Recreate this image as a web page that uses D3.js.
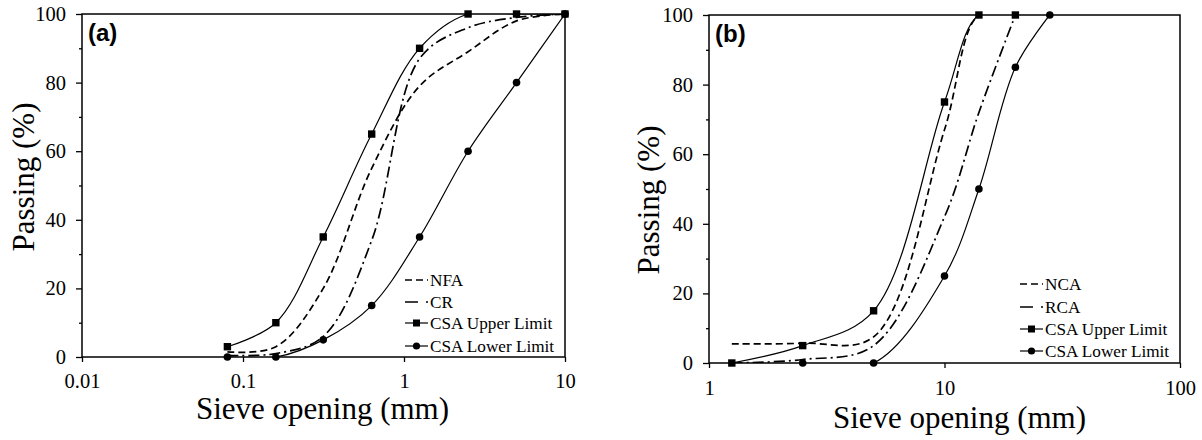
<!DOCTYPE html>
<html>
<head>
<meta charset="utf-8">
<script src="https://cdn.jsdelivr.net/npm/d3@7"></script>
<style>
  body { margin: 0; background: #fff; }
  svg { display: block; }
</style>
</head>
<body>
<div id="chart"></div>
<script>
// panel (a) - fine aggregate
var sievesA = [0.08, 0.16, 0.315, 0.63, 1.25, 2.5, 5, 10];
var nfa     = [1.5, 3, 20, 55, 79, 89, 98, 100];
var cr      = [0.5, 1, 6, 34, 87, 96, 99, 100];
var upperA  = [3, 10, 35, 65, 90, 100, 100, 100];
var lowerA  = [0, 0, 5, 15, 35, 60, 80, 100];
var xTicksA = [0.01, 0.1, 1, 10];
var xLabelsA = ["0.01", "0.1", "1", "10"];
var legendA = ["NFA", "CR", "CSA Upper Limit", "CSA Lower Limit"];

// panel (b) - coarse aggregate
var sievesB = [1.25, 2.5, 5, 10, 14, 20, 28];
var nca     = [5.5, 5.7, 7.5, 67, 100, 100, null];
var rca     = [0, 1, 5, 42, 72, 100, null];
var upperB  = [0, 5, 15, 75, 100, 100, null];
var lowerB  = [null, 0, 0, 25, 50, 85, 100];
var xTicksB = [1, 10, 100];
var xLabelsB = ["1", "10", "100"];
var legendB = ["NCA", "RCA", "CSA Upper Limit", "CSA Lower Limit"];

var yTicks = [0, 20, 40, 60, 80, 100];
var yMinor = [10, 30, 50, 70, 90];

var svg = d3.select("#chart").append("svg")
    .attr("width", 1202)
    .attr("height", 440);

var serif = "'Liberation Serif', 'Times New Roman', serif";
var sans = "'Liberation Sans', Arial, sans-serif";

function drawPanel(p) {
  var x = d3.scaleLog().domain(p.xDomain).range([p.left, p.right]);
  var y = d3.scaleLinear().domain([0, 100]).range([p.bottom, p.top]);
  var g = svg.append("g");

  g.append("clipPath").attr("id", p.id + "-clip")
    .append("rect")
    .attr("x", p.left).attr("y", p.top)
    .attr("width", p.right - p.left).attr("height", p.bottom - p.top);

  // axes
  var xa = g.append("g")
    .attr("transform", "translate(0," + p.bottom + ")")
    .call(d3.axisBottom(x).tickValues(p.xTicks).tickSize(5)
      .tickFormat(function(d, i) { return p.xLabels[i]; }));
  xa.select(".domain").remove();
  xa.selectAll("line").attr("stroke", "#000").attr("stroke-width", 1.3);
  xa.selectAll("text").attr("y", p.xLabelY).attr("dy", 0)
    .style("font-family", serif).style("font-size", "20.5px").attr("fill", "#000");

  var ya = g.append("g")
    .attr("transform", "translate(" + p.left + ",0)")
    .call(d3.axisLeft(y).tickValues(yTicks).tickSize(6).tickPadding(10));
  ya.select(".domain").remove();
  ya.selectAll("line").attr("stroke", "#000").attr("stroke-width", 1.3);
  ya.selectAll("text").style("font-family", serif).style("font-size", "20.5px").attr("fill", "#000");

  var ym = g.append("g")
    .attr("transform", "translate(" + p.left + ",0)")
    .call(d3.axisLeft(y).tickValues(yMinor).tickSize(3).tickFormat(""));
  ym.select(".domain").remove();
  ym.selectAll("line").attr("stroke", "#000").attr("stroke-width", 1.3);

  g.append("rect")
    .attr("x", p.left).attr("y", p.top)
    .attr("width", p.right - p.left).attr("height", p.bottom - p.top)
    .attr("fill", "none").attr("stroke", "#000").attr("stroke-width", 1.5);

  // curves
  var line = d3.line()
    .defined(function(d) { return d[1] != null; })
    .x(function(d) { return x(d[0]); })
    .y(function(d) { return y(d[1]); })
    .curve(d3.curveCatmullRom.alpha(0.5));

  var curves = g.append("g").attr("clip-path", "url(#" + p.id + "-clip)");
  p.series.forEach(function(s) {
    var pts = p.sieves.map(function(v, i) { return [v, s.values[i]]; })
      .filter(function(d) { return d[1] != null; });
    curves.append("path")
      .datum(pts)
      .attr("d", line)
      .attr("fill", "none")
      .attr("stroke", "#000")
      .attr("stroke-width", s.width)
      .attr("stroke-dasharray", s.dash);
  });

  p.series.forEach(function(s) {
    if (!s.marker) return;
    var pts = p.sieves.map(function(v, i) { return [v, s.values[i]]; })
      .filter(function(d) { return d[1] != null; });
    if (s.marker == "square") {
      g.selectAll(null).data(pts).enter().append("rect")
        .attr("x", function(d) { return x(d[0]) - 3.7; })
        .attr("y", function(d) { return y(d[1]) - 3.7; })
        .attr("width", 7.4).attr("height", 7.4)
        .attr("fill", "#000");
    } else {
      g.selectAll(null).data(pts).enter().append("circle")
        .attr("cx", function(d) { return x(d[0]); })
        .attr("cy", function(d) { return y(d[1]); })
        .attr("r", 3.8)
        .attr("fill", "#000");
    }
  });

  // legend
  var legend = g.selectAll(".legend-" + p.id)
    .data(p.series).enter()
    .append("g")
    .attr("transform", function(d, i) {
      return "translate(" + p.legX + "," + p.legY[i] + ")";
    });
  legend.append("line")
    .attr("x1", 0).attr("x2", 23)
    .attr("stroke", "#000")
    .attr("stroke-width", function(d) { return d.width; })
    .attr("stroke-dasharray", function(d) { return d.legDash; });
  legend.filter(function(d) { return d.marker == "square"; })
    .append("rect").attr("x", 8).attr("y", -3.5).attr("width", 7).attr("height", 7).attr("fill", "#000");
  legend.filter(function(d) { return d.marker == "circle"; })
    .append("circle").attr("cx", 11.5).attr("r", 3.6).attr("fill", "#000");
  legend.append("text")
    .attr("x", 25).attr("y", 6)
    .style("font-family", serif).style("font-size", "17.2px")
    .text(function(d, i) { return p.legend[i]; });

  // titles
  g.append("text")
    .attr("x", (p.left + p.right) / 2 + p.xTitleShift)
    .attr("y", p.xTitleY)
    .attr("text-anchor", "middle")
    .style("font-family", serif).style("font-size", "31px")
    .text("Sieve opening (mm)");
  g.append("text")
    .attr("transform", "translate(" + p.yTitleX + "," + p.yTitleY + ") rotate(-90)")
    .attr("text-anchor", "middle")
    .style("font-family", serif).style("font-size", "31px")
    .text("Passing (%)");
  g.append("text")
    .attr("x", p.left + 6).attr("y", p.top + 27)
    .style("font-family", sans).style("font-size", "24px").style("font-weight", "bold")
    .text(p.tag);
}

drawPanel({
  id: "a", tag: "(a)",
  left: 82, right: 565, top: 14, bottom: 357,
  xDomain: [0.01, 10], xTicks: xTicksA, xLabels: xLabelsA, xLabelY: 31,
  sieves: sievesA,
  series: [
    { values: nfa, width: 1.7, dash: "7,4", legDash: "7,4" },
    { values: cr, width: 1.7, dash: "11,4,2,4", legDash: "13,8,2,4" },
    { values: upperA, width: 1.2, dash: null, legDash: null, marker: "square" },
    { values: lowerA, width: 1.2, dash: null, legDash: null, marker: "circle" }
  ],
  legend: legendA, legX: 405, legY: [280, 302, 323, 346],
  xTitleShift: -1, xTitleY: 419, yTitleX: 34, yTitleY: 177
});

drawPanel({
  id: "b", tag: "(b)",
  left: 709, right: 1180, top: 15, bottom: 363,
  xDomain: [1, 100], xTicks: xTicksB, xLabels: xLabelsB, xLabelY: 32,
  sieves: sievesB,
  series: [
    { values: nca, width: 1.7, dash: "7,4", legDash: "7,4" },
    { values: rca, width: 1.7, dash: "11,4,2,4", legDash: "13,8,2,4" },
    { values: upperB, width: 1.2, dash: null, legDash: null, marker: "square" },
    { values: lowerB, width: 1.2, dash: null, legDash: null, marker: "circle" }
  ],
  legend: legendB, legX: 1020, legY: [284, 307, 329, 351],
  xTitleShift: 15, xTitleY: 428, yTitleX: 659, yTitleY: 200
});
</script>
</body>
</html>
